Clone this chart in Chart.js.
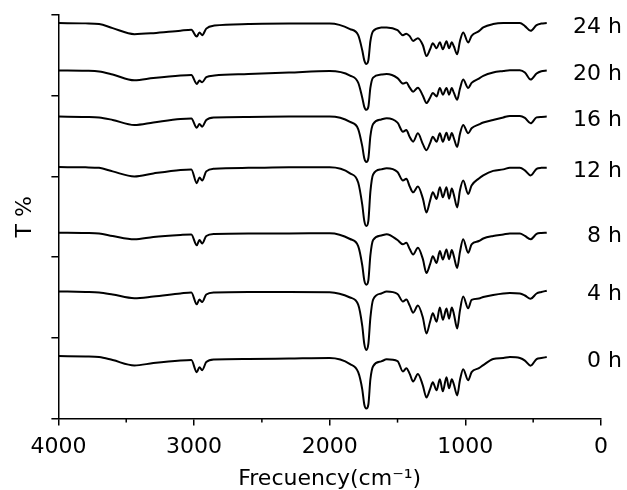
<!DOCTYPE html>
<html lang="es">
<head>
<meta charset="UTF-8">
<title>Espectros FTIR</title>
<script src="https://cdn.jsdelivr.net/npm/chart.js@4.4.1/dist/chart.umd.min.js"></script>
<style>
  html, body { margin: 0; padding: 0; background: #fff; }
  #grafica { display: block; }
</style>
</head>
<body>
<canvas id="grafica" width="627" height="490"></canvas>
<script>
// Numeros de onda (cm-1) comunes a todos los espectros
const numerosOnda = [
  4000, 3800, 3700, 3600, 3440, 3300, 3100, 3020, 2980, 2960,
  2940, 2910, 2850, 2600, 2300, 2000, 1850, 1790, 1760, 1745,
  1730, 1715, 1700, 1680, 1620, 1580, 1500, 1460, 1435, 1410,
  1385, 1350, 1313, 1287, 1260, 1240, 1212, 1188, 1166, 1139,
  1120, 1100, 1085, 1060, 1040, 1016, 979, 954, 900, 868,
  795, 720, 672, 598, 561, 519, 475, 440, 400
];

// Transmitancia (unidades arbitrarias, ya desplazadas) de cada muestra
const t0h = [
  62, 61.5, 61, 58, 52.7, 55, 57.5, 58, 46, 51,
  48, 56, 58.5, 59, 59.5, 60, 54, 46, 29, 14,
  10, 14, 39, 52, 56.7, 58.7, 57, 46.7, 50, 44.3,
  36.7, 44.3, 32.7, 21, 29.3, 36, 28, 39, 27, 41,
  30, 39, 34, 23, 38, 49, 38, 46, 50, 53,
  59, 60, 61, 60, 57.5, 52.5, 59, 60, 61
];
const t4h = [
  126, 125.5, 125, 123, 119.3, 121, 124, 125, 113.3, 118,
  115.5, 123, 125, 125.5, 125.5, 125.3, 120, 113, 92, 74,
  68, 74, 100, 118, 124, 126, 123.5, 116, 118, 112,
  105, 112, 100, 84.3, 96, 104.3, 96, 110, 98, 109,
  99, 110, 104, 89.3, 107, 121, 109.3, 117.7, 119, 120.5,
  122.5, 124, 124.5, 124, 122, 118.7, 124, 125.5, 126.7
];
const t8h = [
  184.3, 184, 183.5, 181, 177.7, 180, 182, 182.5, 171.7, 177,
  173.5, 181, 183, 183.5, 183.5, 183.7, 178, 171, 152, 137,
  132.7, 137, 162, 177, 181.5, 182.7, 177, 172.7, 174.3, 168,
  162.7, 169.3, 158, 144.3, 153, 161, 154.3, 166, 157.7, 167.7,
  158, 167, 161, 149.3, 165, 177.7, 164.3, 172.7, 176, 178.5,
  181, 182.5, 183.5, 183.5, 181, 177.7, 183, 184, 184.3
];
const t12h = [
  249.3, 249, 248.5, 245, 240, 243, 246.5, 247, 233.3, 239,
  236, 245, 247.7, 248.5, 249, 249, 243, 234, 212, 196,
  191, 196, 225, 242, 247, 248, 244.3, 236, 237.7, 230,
  224.3, 230, 218, 204.3, 216, 224.3, 217.7, 229.3, 219.3, 229.3,
  218, 228, 222, 209.3, 226, 236, 222.7, 231, 238, 241,
  245.5, 247, 248.7, 248.7, 246, 241, 247.5, 248.5, 248.7
];
const t16h = [
  299.3, 299, 298.5, 296, 291, 293.5, 297, 297.5, 288.3, 292,
  289.3, 296, 298.5, 299, 299.3, 299.3, 294, 287, 270, 258,
  254.3, 258, 280, 292, 296.5, 297.7, 293.3, 284.3, 286, 279,
  274.5, 282.7, 272, 266, 273, 279.3, 274.3, 282.7, 274.3, 283.3,
  276, 283, 278, 269.3, 282, 291, 282.7, 287.7, 291.5, 293.5,
  296, 298.5, 300, 300, 298, 292.7, 298.5, 299, 299.3
];
const t20h = [
  345, 344.7, 344, 341, 335.3, 337.5, 340, 340.5, 331.7, 335,
  333.3, 338.5, 340, 341.5, 343, 344.5, 340, 333, 318, 309,
  306, 309, 328, 338, 341, 341.5, 337.5, 332, 333, 328,
  324, 328, 320, 312.7, 318, 322.7, 319.3, 327.7, 321, 327.7,
  321, 327.7, 323, 316, 327, 336, 327.7, 332.7, 337, 339.7,
  343, 344.5, 345.3, 345.3, 343, 336, 342, 344.3, 345
];
const t24h = [
  392, 391.7, 391, 387, 381, 382, 384.5, 385.3, 378.7, 382.7,
  380, 386.5, 389.5, 391, 391.5, 391.5, 386, 380, 365, 355,
  351.5, 355, 374, 384, 387.5, 387.7, 385, 380, 381.5, 379,
  374.3, 377, 370, 359.3, 366, 372, 367, 373, 366, 374,
  367, 373, 369, 361, 374, 382.7, 372.7, 379.3, 384, 387.7,
  391, 392, 392, 392, 389, 384.3, 390, 391.5, 392
];

const etiquetas = ["0 h", "4 h", "8 h", "12 h", "16 h", "20 h", "24 h"];
const series = [t0h, t4h, t8h, t12h, t16h, t20h, t24h];
const ticksX = [4000, 3000, 2000, 1000, 0];
const ticksMenores = [3500, 2500, 1500, 500];

document.addEventListener("DOMContentLoaded", () => {
  const ctx = document.getElementById("grafica").getContext("2d");
  const fuente = '"DejaVu Sans", "Liberation Sans", Arial, sans-serif';
  Chart.defaults.font.family = fuente;
  Chart.defaults.color = "#000";

  // Un dataset por muestra
  const datasets = series.map((valores, i) => ({
    label: etiquetas[i],
    data: numerosOnda.map((x, j) => ({ x: x, y: valores[j] })),
    borderColor: "#000",
    borderWidth: 2,
    pointRadius: 0,
    fill: false,
    cubicInterpolationMode: "monotone",
  }));

  // Marcas menores del eje X y etiquetas de cada espectro a la derecha
  const extras = {
    id: "extras",
    afterDraw(chart) {
      const { ctx, chartArea, scales } = chart;
      ctx.save();
      ctx.strokeStyle = "#000";
      ctx.lineWidth = 1.5;
      ticksMenores.forEach((v) => {
        const x = scales.x.getPixelForValue(v);
        ctx.beginPath();
        ctx.moveTo(x, chartArea.bottom);
        ctx.lineTo(x, chartArea.bottom + 4);
        ctx.stroke();
      });
      ctx.font = "22px " + fuente;
      ctx.fillStyle = "#000";
      ctx.textAlign = "right";
      ctx.textBaseline = "middle";
      chart.data.datasets.forEach((ds) => {
        const ultimo = ds.data[ds.data.length - 1].y;
        const y = scales.y.getPixelForValue(ultimo) + 4;
        ctx.fillText(ds.label, chartArea.right + 21, y);
      });
      ctx.restore();
    },
  };

  new Chart(ctx, {
    type: "line",
    data: { datasets: datasets },
    options: {
      responsive: false,
      animation: false,
      layout: { padding: { left: 12, right: 26, top: 15, bottom: 0 } },
      plugins: {
        legend: { display: false },
        tooltip: { enabled: false },
      },
      scales: {
        x: {
          type: "linear",
          reverse: true,
          min: 0,
          max: 4000,
          afterBuildTicks: (eje) => {
            eje.ticks = ticksX.map((v) => ({ value: v }));
          },
          ticks: {
            font: { size: 22 },
            color: "#000",
            padding: 8,
            maxRotation: 0,
            callback: (v) => String(v),
          },
          grid: { drawOnChartArea: false, drawTicks: true, tickLength: 7, color: "#000", lineWidth: 1.5 },
          border: { display: true, color: "#000", width: 1.5 },
          title: {
            display: true,
            text: "Frecuency(cm⁻¹)",
            font: { size: 22, lineHeight: 1.0 },
            color: "#000",
            padding: { top: 0, bottom: 0 },
          },
        },
        y: {
          min: 0,
          max: 400,
          ticks: { display: false, stepSize: 80 },
          grid: { drawOnChartArea: false, drawTicks: true, tickLength: 7, color: "#000", lineWidth: 1.5 },
          border: { display: true, color: "#000", width: 1.5 },
          title: {
            display: true,
            text: "T %",
            font: { size: 22 },
            color: "#000",
            padding: { top: 0, bottom: 13 },
          },
        },
      },
    },
    plugins: [extras],
  });
});
</script>
</body>
</html>
